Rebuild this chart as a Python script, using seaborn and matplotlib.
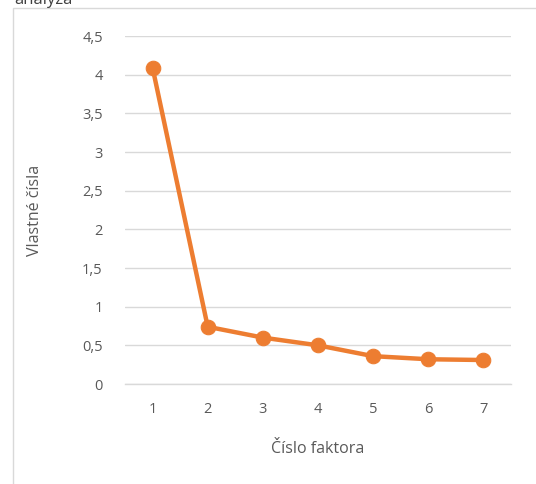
import matplotlib
matplotlib.use("Agg")
import matplotlib.pyplot as plt
import seaborn as sns
import pandas as pd
from matplotlib.patches import Rectangle

# Scree plot data: eigenvalues per factor
factors = [1, 2, 3, 4, 5, 6, 7]
eigenvalues = [4.09, 0.74, 0.60, 0.50, 0.36, 0.32, 0.31]
y_ticks = [0, 0.5, 1, 1.5, 2, 2.5, 3, 3.5, 4, 4.5]
y_tick_labels = ["0", "0,5", "1", "1,5", "2", "2,5", "3", "3,5", "4", "4,5"]

df = pd.DataFrame({"factor": factors, "eigen": eigenvalues})

sns.set_theme(style="white")
plt.rcParams["font.family"] = ["Open Sans", "DejaVu Sans"]

W, H = 536, 484
fig = plt.figure(figsize=(W / 100, H / 100), dpi=100)
ax = fig.add_axes([125 / W, 1 - 384 / H, (511 - 125) / W, (384 - 36) / H])

orange = "#ED7D31"
text_gray = "#595959"
grid_gray = "#D9D9D9"

sns.lineplot(data=df, x="factor", y="eigen", ax=ax, color=orange,
             linewidth=3.2, marker="o", markersize=10.5,
             markeredgecolor=orange, markerfacecolor=orange, zorder=3)

ax.set_xlim(0.5, 7.5)
ax.set_ylim(0, 4.5)
ax.set_xticks(factors)
ax.set_xticklabels([str(f) for f in factors])
ax.set_yticks(y_ticks)
ax.set_yticklabels(y_tick_labels)
ax.tick_params(axis="both", length=0, labelsize=10.5, colors=text_gray)
ax.tick_params(axis="x", pad=13)
ax.tick_params(axis="y", pad=16)

ax.yaxis.grid(True, color=grid_gray, linewidth=1)
ax.set_axisbelow(True)
for side in ["top", "right", "left"]:
    ax.spines[side].set_visible(False)
ax.spines["bottom"].set_color(grid_gray)
ax.spines["bottom"].set_linewidth(1)

ax.set_xlabel("Číslo faktora", fontsize=11.5, color=text_gray, labelpad=17)
ax.set_ylabel("Vlastné čísla", fontsize=11.5, color=text_gray, labelpad=28)

# Chart frame
fig.patches.append(Rectangle((13 / W, -0.1), 1.2, 1 - 8 / H + 0.1,
                             transform=fig.transFigure, fill=False,
                             edgecolor="#D9D9D9", linewidth=1))

# Caption text above the chart frame
fig.text(14 / W, 1 - 4 / H, "analýza", fontsize=12, color="#404040",
         ha="left", va="baseline")

fig.savefig("out.png", dpi=100)
